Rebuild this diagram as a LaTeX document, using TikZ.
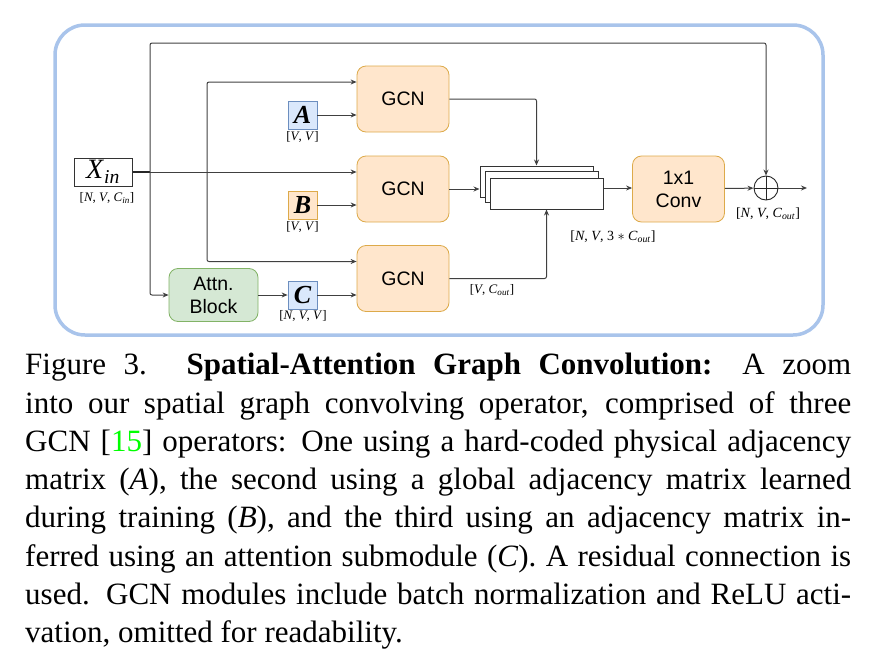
\documentclass[tikz,border=0pt]{standalone}
\usepackage{fontspec}
\setmainfont{Liberation Serif}
\setsansfont{Liberation Sans}
\usepackage{tikz}
\usetikzlibrary{arrows.meta}

\definecolor{gcnfill}{HTML}{FFE6CC}
\definecolor{gcnline}{HTML}{DDAA4A}
\definecolor{adjfill}{HTML}{DAE8FC}
\definecolor{adjline}{HTML}{6C8EBF}
\definecolor{attfill}{HTML}{D5E8D4}
\definecolor{attline}{HTML}{82B366}
\definecolor{frameblue}{HTML}{A9C4EB}

\tikzset{
    arr/.style={draw=black!75, line width=1pt, rounded corners=2pt,
        -{Stealth[length=6pt,width=5pt]}},
    gcn/.style={draw=gcnline, fill=gcnfill, line width=0.8pt, rounded corners=9pt,
        minimum width=92pt, minimum height=66pt, align=center,
        font=\sffamily\fontsize{19.5}{23}\selectfont},
    adj/.style={line width=0.8pt, minimum width=29pt, minimum height=28pt, inner sep=0,
        font=\bfseries\itshape\fontsize{26}{26}\selectfont},
    blue/.style={draw=adjline, fill=adjfill},
    orange/.style={draw=gcnline, fill=gcnfill},
    stk/.style={draw=black!80, fill=white, line width=1pt,
        minimum width=113pt, minimum height=31pt, inner sep=0},
    dim/.style={inner sep=0, font=\fontsize{13}{13}\selectfont},
}

\begin{document}
\begin{tikzpicture}[x=1pt, y=-1pt]
    \useasboundingbox (0,0) rectangle (876,664);
    \draw[draw=frameblue, line width=3.5pt, rounded corners=30pt] (55,25) rectangle (823,335);

    \coordinate (J1) at (150,172);
    \coordinate (J2) at (207,172);
    \coordinate (T) at (150,43);
    \coordinate (O) at (807,188);

    \node[draw=black!80, line width=1pt, minimum width=58pt, minimum height=28pt, inner sep=0,
        font=\fontsize{28}{28}\selectfont] (X) at (103,172) {\textit{X}\textsubscript{\textit{in}}};
    \node[gcn] (G1) at (403,99) {GCN};
    \node[gcn] (G2) at (403,189) {GCN};
    \node[gcn] (G3) at (403,278.5) {GCN};
    \node[adj, blue] (A) at (302.5,115) {A};
    \node[adj, orange] (B) at (302.5,205) {B};
    \node[adj, blue] (C) at (302.5,295) {C};
    \node[draw=attline, fill=attfill, line width=0.8pt, rounded corners=9pt,
        minimum width=89pt, minimum height=53pt, align=center,
        font=\sffamily\fontsize{19.5}{23}\selectfont] (At) at (213.5,295) {Attn.\\Block};
    \node[stk] (S1) at (536.5,181.5) {};
    \node[stk] (S2) at (541.5,187) {};
    \node[stk] (S3) at (546.5,193.5) {};
    \node[gcn] (Cv) at (678.5,189) {1x1\\Conv};
    \node[circle, draw=black!85, line width=0.9pt, minimum size=24pt, inner sep=0] (P) at (766,188) {};
    \draw[black!85, line width=0.9pt] (P.north) -- (P.south) (P.west) -- (P.east);

    \draw[black!85, line width=1.8pt] (X.east) -- (J1);
    \draw[arr] (J1) -- (J1 -| G2.west);
    \draw[arr] (J1) |- (At.west);
    \draw[arr] (J1) -- (T) -| (P.north);
    \draw[arr] (J2) |- ([yshift=17pt]G1.west);
    \draw[arr] (J2) |- ([yshift=17pt]G3.west);
    \draw[arr] (A) -- (A -| G1.west);
    \draw[arr] (B) -- (B -| G2.west);
    \draw[arr] (At) -- (C);
    \draw[arr] (C) -- (C -| G3.west);
    \draw[arr] (G1) -| (S1.north);
    \draw[arr] (G2) -- (G2 -| S1.west);
    \draw[arr] (G3) -| (S3.south);
    \draw[arr] (O -| S3.east) -- (O -| Cv.west);
    \draw[arr] (Cv) -- (P);
    \draw[arr] (P) -- (O);

    \node[dim] (lX) at (107,198) {[\textit{N}, \textit{V}, \textit{C}\textsubscript{\textit{in}}]};
    \node[dim] (lA) at (302.5,137) {[\textit{V}, \textit{V}]};
    \node[dim] (lB) at (302.5,227) {[\textit{V}, \textit{V}]};
    \node[dim] (lC) at (303,316) {[\textit{N}, \textit{V}, \textit{V}]};
    \node[dim] (lG) at (492,290) {[\textit{V}, \textit{C}\textsubscript{\textit{out}}]};
    \node[dim, font=\fontsize{14}{14}\selectfont] (lS) at (613,237) {[\textit{N}, \textit{V}, 3 $*$ \textit{C}\textsubscript{\textit{out}}]};
    \node[dim, font=\fontsize{14}{14}\selectfont] (lP) at (768,214) {[\textit{N}, \textit{V}, \textit{C}\textsubscript{\textit{out}}]};

    \node[anchor=north west, inner sep=0, text width=826pt, align=justify,
        font=\fontsize{31}{38.3}\selectfont] (cap) at (25,353) {%
        \hyphenpenalty=10000\exhyphenpenalty=10000\tolerance=10000
        Figure 3. \textbf{Spatial-Attention Graph Convolution:} A zoom\linebreak
        into our spatial graph convolving operator, comprised of three\linebreak
        GCN [\textcolor{green}{15}] operators: One using a hard-coded physical adjacency\linebreak
        matrix (\textit{A}), the second using a global adjacency matrix learned\linebreak
        during training (\textit{B}), and the third using an adjacency matrix in-\linebreak
        ferred using an attention submodule (\textit{C}). A residual connection is\linebreak
        used. GCN modules include batch normalization and ReLU acti-\linebreak
        vation, omitted for readability.};
\end{tikzpicture}
\end{document}
